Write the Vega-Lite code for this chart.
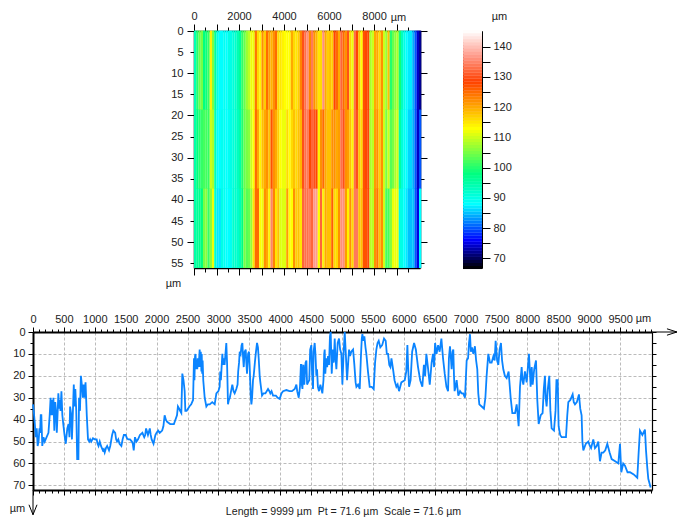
{"$schema":"https://vega.github.io/schema/vega-lite/v6.json","background":"white","padding":{"left":9,"top":9,"right":0,"bottom":0},
"config":{"font":"Liberation Sans","view":{"stroke":null},"axis":{"labelFont":"Liberation Sans","labelFontSize":11,"labelColor":"#222","titleFont":"Liberation Sans","titleFontSize":11,"titleFontWeight":"normal","titleColor":"#222","tickColor":"#000","domainColor":"#000","labelPadding":3,"labelOverlap":false,"labelFlush":false,"grid":false,"title":null,"format":"d"}},
"datasets":{
"anchor":[{"x":0,"y":0}],
"heat":[{"x":50,"y":9.3,"z":94},{"x":150,"y":9.3,"z":100},{"x":250,"y":9.3,"z":104},{"x":350,"y":9.3,"z":105},{"x":450,"y":9.3,"z":98},{"x":550,"y":9.3,"z":99},{"x":650,"y":9.3,"z":101},{"x":750,"y":9.3,"z":114},{"x":850,"y":9.3,"z":105},{"x":950,"y":9.3,"z":96},{"x":1050,"y":9.3,"z":90},{"x":1150,"y":9.3,"z":88},{"x":1250,"y":9.3,"z":88},{"x":1350,"y":9.3,"z":89},{"x":1450,"y":9.3,"z":88},{"x":1550,"y":9.3,"z":90},{"x":1650,"y":9.3,"z":90},{"x":1750,"y":9.3,"z":91},{"x":1850,"y":9.3,"z":92},{"x":1950,"y":9.3,"z":94},{"x":2050,"y":9.3,"z":96},{"x":2150,"y":9.3,"z":101},{"x":2250,"y":9.3,"z":104},{"x":2350,"y":9.3,"z":107},{"x":2450,"y":9.3,"z":109},{"x":2550,"y":9.3,"z":112},{"x":2650,"y":9.3,"z":112},{"x":2750,"y":9.3,"z":124},{"x":2850,"y":9.3,"z":116},{"x":2950,"y":9.3,"z":114},{"x":3050,"y":9.3,"z":122},{"x":3150,"y":9.3,"z":117},{"x":3250,"y":9.3,"z":125},{"x":3350,"y":9.3,"z":121},{"x":3450,"y":9.3,"z":119},{"x":3550,"y":9.3,"z":122},{"x":3650,"y":9.3,"z":125},{"x":3750,"y":9.3,"z":116},{"x":3850,"y":9.3,"z":115},{"x":3950,"y":9.3,"z":114},{"x":4050,"y":9.3,"z":113},{"x":4150,"y":9.3,"z":113},{"x":4250,"y":9.3,"z":113},{"x":4350,"y":9.3,"z":120},{"x":4450,"y":9.3,"z":116},{"x":4550,"y":9.3,"z":115},{"x":4650,"y":9.3,"z":117},{"x":4750,"y":9.3,"z":123},{"x":4850,"y":9.3,"z":130},{"x":4950,"y":9.3,"z":133},{"x":5050,"y":9.3,"z":136},{"x":5150,"y":9.3,"z":123},{"x":5250,"y":9.3,"z":134},{"x":5350,"y":9.3,"z":122},{"x":5450,"y":9.3,"z":119},{"x":5550,"y":9.3,"z":115},{"x":5650,"y":9.3,"z":116},{"x":5750,"y":9.3,"z":136},{"x":5850,"y":9.3,"z":120},{"x":5950,"y":9.3,"z":117},{"x":6050,"y":9.3,"z":118},{"x":6150,"y":9.3,"z":117},{"x":6250,"y":9.3,"z":128},{"x":6350,"y":9.3,"z":125},{"x":6450,"y":9.3,"z":120},{"x":6550,"y":9.3,"z":132},{"x":6650,"y":9.3,"z":125},{"x":6750,"y":9.3,"z":122},{"x":6850,"y":9.3,"z":130},{"x":6950,"y":9.3,"z":116},{"x":7050,"y":9.3,"z":112},{"x":7150,"y":9.3,"z":133},{"x":7250,"y":9.3,"z":128},{"x":7350,"y":9.3,"z":118},{"x":7450,"y":9.3,"z":113},{"x":7550,"y":9.3,"z":127},{"x":7650,"y":9.3,"z":128},{"x":7750,"y":9.3,"z":128},{"x":7850,"y":9.3,"z":108},{"x":7950,"y":9.3,"z":110},{"x":8050,"y":9.3,"z":120},{"x":8150,"y":9.3,"z":120},{"x":8250,"y":9.3,"z":116},{"x":8350,"y":9.3,"z":122},{"x":8450,"y":9.3,"z":110},{"x":8550,"y":9.3,"z":107},{"x":8650,"y":9.3,"z":118},{"x":8750,"y":9.3,"z":100},{"x":8850,"y":9.3,"z":104},{"x":8950,"y":9.3,"z":106},{"x":9050,"y":9.3,"z":108},{"x":9150,"y":9.3,"z":99},{"x":9250,"y":9.3,"z":93},{"x":9350,"y":9.3,"z":90},{"x":9450,"y":9.3,"z":88},{"x":9550,"y":9.3,"z":87},{"x":9650,"y":9.3,"z":87},{"x":9750,"y":9.3,"z":84},{"x":9850,"y":9.3,"z":80},{"x":9950,"y":9.3,"z":74},{"x":10050,"y":9.3,"z":72},
{"x":50,"y":28,"z":95},{"x":150,"y":28,"z":98},{"x":250,"y":28,"z":100},{"x":350,"y":28,"z":101},{"x":450,"y":28,"z":102},{"x":550,"y":28,"z":102},{"x":650,"y":28,"z":101},{"x":750,"y":28,"z":110},{"x":850,"y":28,"z":108},{"x":950,"y":28,"z":94},{"x":1050,"y":28,"z":88},{"x":1150,"y":28,"z":88},{"x":1250,"y":28,"z":89},{"x":1350,"y":28,"z":89},{"x":1450,"y":28,"z":88},{"x":1550,"y":28,"z":89},{"x":1650,"y":28,"z":90},{"x":1750,"y":28,"z":91},{"x":1850,"y":28,"z":92},{"x":1950,"y":28,"z":93},{"x":2050,"y":28,"z":95},{"x":2150,"y":28,"z":100},{"x":2250,"y":28,"z":104},{"x":2350,"y":28,"z":105},{"x":2450,"y":28,"z":106},{"x":2550,"y":28,"z":110},{"x":2650,"y":28,"z":113},{"x":2750,"y":28,"z":125},{"x":2850,"y":28,"z":120},{"x":2950,"y":28,"z":114},{"x":3050,"y":28,"z":118},{"x":3150,"y":28,"z":120},{"x":3250,"y":28,"z":122},{"x":3350,"y":28,"z":118},{"x":3450,"y":28,"z":127},{"x":3550,"y":28,"z":122},{"x":3650,"y":28,"z":120},{"x":3750,"y":28,"z":117},{"x":3850,"y":28,"z":113},{"x":3950,"y":28,"z":112},{"x":4050,"y":28,"z":112},{"x":4150,"y":28,"z":116},{"x":4250,"y":28,"z":113},{"x":4350,"y":28,"z":116},{"x":4450,"y":28,"z":118},{"x":4550,"y":28,"z":116},{"x":4650,"y":28,"z":118},{"x":4750,"y":28,"z":119},{"x":4850,"y":28,"z":130},{"x":4950,"y":28,"z":133},{"x":5050,"y":28,"z":134},{"x":5150,"y":28,"z":128},{"x":5250,"y":28,"z":132},{"x":5350,"y":28,"z":130},{"x":5450,"y":28,"z":128},{"x":5550,"y":28,"z":114},{"x":5650,"y":28,"z":122},{"x":5750,"y":28,"z":125},{"x":5850,"y":28,"z":120},{"x":5950,"y":28,"z":118},{"x":6050,"y":28,"z":118},{"x":6150,"y":28,"z":122},{"x":6250,"y":28,"z":122},{"x":6350,"y":28,"z":120},{"x":6450,"y":28,"z":121},{"x":6550,"y":28,"z":133},{"x":6650,"y":28,"z":130},{"x":6750,"y":28,"z":122},{"x":6850,"y":28,"z":121},{"x":6950,"y":28,"z":118},{"x":7050,"y":28,"z":114},{"x":7150,"y":28,"z":133},{"x":7250,"y":28,"z":130},{"x":7350,"y":28,"z":118},{"x":7450,"y":28,"z":116},{"x":7550,"y":28,"z":127},{"x":7650,"y":28,"z":128},{"x":7750,"y":28,"z":129},{"x":7850,"y":28,"z":108},{"x":7950,"y":28,"z":109},{"x":8050,"y":28,"z":121},{"x":8150,"y":28,"z":122},{"x":8250,"y":28,"z":117},{"x":8350,"y":28,"z":122},{"x":8450,"y":28,"z":110},{"x":8550,"y":28,"z":105},{"x":8650,"y":28,"z":110},{"x":8750,"y":28,"z":103},{"x":8850,"y":28,"z":105},{"x":8950,"y":28,"z":108},{"x":9050,"y":28,"z":110},{"x":9150,"y":28,"z":95},{"x":9250,"y":28,"z":91},{"x":9350,"y":28,"z":89},{"x":9450,"y":28,"z":88},{"x":9550,"y":28,"z":86},{"x":9650,"y":28,"z":86},{"x":9750,"y":28,"z":84},{"x":9850,"y":28,"z":80},{"x":9950,"y":28,"z":74},{"x":10050,"y":28,"z":80},
{"x":50,"y":46.7,"z":95},{"x":150,"y":46.7,"z":96},{"x":250,"y":46.7,"z":97},{"x":350,"y":46.7,"z":98},{"x":450,"y":46.7,"z":105},{"x":550,"y":46.7,"z":106},{"x":650,"y":46.7,"z":101},{"x":750,"y":46.7,"z":106},{"x":850,"y":46.7,"z":112},{"x":950,"y":46.7,"z":92},{"x":1050,"y":46.7,"z":87},{"x":1150,"y":46.7,"z":87},{"x":1250,"y":46.7,"z":90},{"x":1350,"y":46.7,"z":89},{"x":1450,"y":46.7,"z":88},{"x":1550,"y":46.7,"z":88},{"x":1650,"y":46.7,"z":89},{"x":1750,"y":46.7,"z":92},{"x":1850,"y":46.7,"z":92},{"x":1950,"y":46.7,"z":92},{"x":2050,"y":46.7,"z":94},{"x":2150,"y":46.7,"z":98},{"x":2250,"y":46.7,"z":105},{"x":2350,"y":46.7,"z":103},{"x":2450,"y":46.7,"z":104},{"x":2550,"y":46.7,"z":107},{"x":2650,"y":46.7,"z":115},{"x":2750,"y":46.7,"z":125},{"x":2850,"y":46.7,"z":125},{"x":2950,"y":46.7,"z":113},{"x":3050,"y":46.7,"z":112},{"x":3150,"y":46.7,"z":122},{"x":3250,"y":46.7,"z":120},{"x":3350,"y":46.7,"z":114},{"x":3450,"y":46.7,"z":135},{"x":3550,"y":46.7,"z":123},{"x":3650,"y":46.7,"z":115},{"x":3750,"y":46.7,"z":118},{"x":3850,"y":46.7,"z":111},{"x":3950,"y":46.7,"z":111},{"x":4050,"y":46.7,"z":111},{"x":4150,"y":46.7,"z":121},{"x":4250,"y":46.7,"z":113},{"x":4350,"y":46.7,"z":113},{"x":4450,"y":46.7,"z":122},{"x":4550,"y":46.7,"z":117},{"x":4650,"y":46.7,"z":118},{"x":4750,"y":46.7,"z":115},{"x":4850,"y":46.7,"z":132},{"x":4950,"y":46.7,"z":133},{"x":5050,"y":46.7,"z":133},{"x":5150,"y":46.7,"z":134},{"x":5250,"y":46.7,"z":132},{"x":5350,"y":46.7,"z":137},{"x":5450,"y":46.7,"z":137},{"x":5550,"y":46.7,"z":113},{"x":5650,"y":46.7,"z":132},{"x":5750,"y":46.7,"z":114},{"x":5850,"y":46.7,"z":120},{"x":5950,"y":46.7,"z":118},{"x":6050,"y":46.7,"z":118},{"x":6150,"y":46.7,"z":126},{"x":6250,"y":46.7,"z":116},{"x":6350,"y":46.7,"z":116},{"x":6450,"y":46.7,"z":122},{"x":6550,"y":46.7,"z":136},{"x":6650,"y":46.7,"z":136},{"x":6750,"y":46.7,"z":121},{"x":6850,"y":46.7,"z":114},{"x":6950,"y":46.7,"z":122},{"x":7050,"y":46.7,"z":116},{"x":7150,"y":46.7,"z":134},{"x":7250,"y":46.7,"z":134},{"x":7350,"y":46.7,"z":118},{"x":7450,"y":46.7,"z":118},{"x":7550,"y":46.7,"z":127},{"x":7650,"y":46.7,"z":127},{"x":7750,"y":46.7,"z":129},{"x":7850,"y":46.7,"z":109},{"x":7950,"y":46.7,"z":109},{"x":8050,"y":46.7,"z":122},{"x":8150,"y":46.7,"z":124},{"x":8250,"y":46.7,"z":118},{"x":8350,"y":46.7,"z":122},{"x":8450,"y":46.7,"z":110},{"x":8550,"y":46.7,"z":102},{"x":8650,"y":46.7,"z":102},{"x":8750,"y":46.7,"z":106},{"x":8850,"y":46.7,"z":112},{"x":8950,"y":46.7,"z":112},{"x":9050,"y":46.7,"z":112},{"x":9150,"y":46.7,"z":90},{"x":9250,"y":46.7,"z":90},{"x":9350,"y":46.7,"z":88},{"x":9450,"y":46.7,"z":87},{"x":9550,"y":46.7,"z":85},{"x":9650,"y":46.7,"z":85},{"x":9750,"y":46.7,"z":85},{"x":9850,"y":46.7,"z":80},{"x":9950,"y":46.7,"z":75},{"x":10050,"y":46.7,"z":88}],
"bar":[{"z":67},{"z":68},{"z":69},{"z":70},{"z":71},{"z":72},{"z":73},{"z":74},{"z":75},{"z":76},{"z":77},{"z":78},{"z":79},{"z":80},{"z":81},{"z":82},{"z":83},{"z":84},{"z":85},{"z":86},{"z":87},{"z":88},{"z":89},{"z":90},{"z":91},{"z":92},{"z":93},{"z":94},{"z":95},{"z":96},{"z":97},{"z":98},{"z":99},{"z":100},{"z":101},{"z":102},{"z":103},{"z":104},{"z":105},{"z":106},{"z":107},{"z":108},{"z":109},{"z":110},{"z":111},{"z":112},{"z":113},{"z":114},{"z":115},{"z":116},{"z":117},{"z":118},{"z":119},{"z":120},{"z":121},{"z":122},{"z":123},{"z":124},{"z":125},{"z":126},{"z":127},{"z":128},{"z":129},{"z":130},{"z":131},{"z":132},{"z":133},{"z":134},{"z":135},{"z":136},{"z":137},{"z":138},{"z":139},{"z":140},{"z":141},{"z":142},{"z":143},{"z":144},{"z":145}],
"profile":[{"x":0,"y":33},{"x":15,"y":37},{"x":30,"y":42},{"x":45,"y":48},{"x":60,"y":44},{"x":75,"y":52},{"x":90,"y":50},{"x":105,"y":44},{"x":115,"y":46},{"x":125,"y":38},{"x":135,"y":38},{"x":150,"y":52},{"x":170,"y":48},{"x":190,"y":50},{"x":220,"y":48},{"x":250,"y":46},{"x":270,"y":38},{"x":285,"y":30},{"x":295,"y":38},{"x":305,"y":31},{"x":320,"y":38},{"x":330,"y":30},{"x":345,"y":45},{"x":360,"y":32},{"x":375,"y":37},{"x":385,"y":46},{"x":400,"y":36},{"x":410,"y":28},{"x":425,"y":35},{"x":435,"y":31},{"x":445,"y":36},{"x":460,"y":27},{"x":475,"y":38},{"x":490,"y":42},{"x":510,"y":47},{"x":530,"y":51},{"x":555,"y":44},{"x":575,"y":42},{"x":590,"y":48},{"x":600,"y":34},{"x":615,"y":37},{"x":630,"y":49},{"x":645,"y":37},{"x":660,"y":24},{"x":670,"y":34},{"x":685,"y":26},{"x":700,"y":36},{"x":715,"y":58},{"x":735,"y":58},{"x":745,"y":30},{"x":760,"y":36},{"x":775,"y":20},{"x":790,"y":24},{"x":805,"y":30},{"x":820,"y":24},{"x":835,"y":30},{"x":850,"y":23},{"x":870,"y":38},{"x":890,"y":49},{"x":910,"y":50},{"x":925,"y":49},{"x":943,"y":50},{"x":970,"y":48.5},{"x":1000,"y":49},{"x":1030,"y":49},{"x":1045,"y":51},{"x":1060,"y":52},{"x":1080,"y":50},{"x":1100,"y":52},{"x":1115,"y":53},{"x":1130,"y":54},{"x":1145,"y":53.5},{"x":1160,"y":55},{"x":1180,"y":53},{"x":1200,"y":52},{"x":1230,"y":54},{"x":1250,"y":52},{"x":1280,"y":47},{"x":1300,"y":45},{"x":1330,"y":46},{"x":1345,"y":49},{"x":1360,"y":50},{"x":1380,"y":49},{"x":1400,"y":51},{"x":1430,"y":52},{"x":1450,"y":49},{"x":1470,"y":47},{"x":1500,"y":47},{"x":1520,"y":48.5},{"x":1540,"y":49},{"x":1570,"y":49},{"x":1600,"y":50},{"x":1615,"y":51},{"x":1630,"y":54},{"x":1650,"y":48},{"x":1675,"y":50},{"x":1700,"y":49},{"x":1730,"y":47},{"x":1770,"y":46},{"x":1800,"y":48},{"x":1815,"y":47},{"x":1830,"y":44},{"x":1860,"y":47},{"x":1890,"y":44},{"x":1905,"y":47},{"x":1920,"y":49},{"x":1950,"y":51},{"x":1980,"y":47},{"x":2000,"y":46},{"x":2025,"y":45},{"x":2050,"y":46},{"x":2090,"y":45},{"x":2110,"y":43},{"x":2130,"y":38},{"x":2150,"y":40},{"x":2170,"y":41},{"x":2220,"y":42},{"x":2280,"y":42},{"x":2330,"y":38},{"x":2345,"y":34},{"x":2365,"y":35},{"x":2380,"y":36},{"x":2400,"y":37},{"x":2416,"y":19},{"x":2435,"y":22},{"x":2454,"y":27},{"x":2465,"y":36},{"x":2485,"y":36},{"x":2508,"y":35},{"x":2530,"y":34},{"x":2560,"y":33},{"x":2590,"y":31},{"x":2605,"y":12},{"x":2612,"y":22},{"x":2622,"y":11},{"x":2630,"y":10},{"x":2640,"y":17},{"x":2650,"y":13},{"x":2658,"y":17},{"x":2665,"y":12},{"x":2680,"y":16},{"x":2697,"y":8},{"x":2705,"y":16},{"x":2715,"y":9},{"x":2725,"y":18},{"x":2730,"y":10},{"x":2738,"y":19},{"x":2745,"y":13},{"x":2755,"y":22},{"x":2778,"y":30},{"x":2805,"y":34},{"x":2830,"y":33},{"x":2860,"y":33},{"x":2900,"y":32},{"x":2940,"y":33},{"x":2967,"y":28},{"x":3000,"y":27},{"x":3020,"y":25},{"x":3030,"y":18},{"x":3040,"y":22},{"x":3064,"y":10},{"x":3075,"y":15},{"x":3085,"y":12},{"x":3100,"y":15},{"x":3128,"y":5},{"x":3140,"y":14},{"x":3145,"y":20},{"x":3155,"y":33},{"x":3170,"y":31},{"x":3185,"y":30},{"x":3205,"y":27},{"x":3225,"y":24},{"x":3245,"y":27},{"x":3263,"y":28},{"x":3290,"y":26},{"x":3310,"y":24},{"x":3320,"y":18},{"x":3334,"y":14},{"x":3345,"y":9},{"x":3360,"y":10},{"x":3375,"y":6},{"x":3388,"y":5},{"x":3400,"y":12},{"x":3410,"y":16},{"x":3425,"y":9},{"x":3442,"y":8},{"x":3452,"y":14},{"x":3463,"y":19},{"x":3480,"y":10},{"x":3495,"y":9},{"x":3505,"y":15},{"x":3517,"y":24},{"x":3525,"y":30},{"x":3534,"y":33},{"x":3545,"y":30},{"x":3560,"y":22},{"x":3571,"y":20},{"x":3590,"y":14},{"x":3604,"y":10},{"x":3625,"y":5},{"x":3640,"y":7},{"x":3652,"y":12},{"x":3668,"y":20},{"x":3679,"y":23},{"x":3706,"y":29},{"x":3730,"y":28},{"x":3760,"y":28},{"x":3803,"y":26},{"x":3825,"y":27},{"x":3840,"y":28},{"x":3860,"y":27},{"x":3884,"y":29},{"x":3930,"y":29},{"x":3960,"y":30},{"x":3992,"y":30.5},{"x":4020,"y":28},{"x":4046,"y":27},{"x":4100,"y":26.5},{"x":4150,"y":27},{"x":4190,"y":27},{"x":4235,"y":26},{"x":4262,"y":24},{"x":4275,"y":27},{"x":4300,"y":30},{"x":4320,"y":25},{"x":4335,"y":15},{"x":4343,"y":15},{"x":4350,"y":24},{"x":4360,"y":26},{"x":4375,"y":15},{"x":4390,"y":24},{"x":4410,"y":14},{"x":4424,"y":13},{"x":4435,"y":24},{"x":4451,"y":23},{"x":4470,"y":22},{"x":4485,"y":8},{"x":4504,"y":6},{"x":4515,"y":18},{"x":4531,"y":26},{"x":4540,"y":9},{"x":4558,"y":5},{"x":4570,"y":10},{"x":4585,"y":20},{"x":4596,"y":17},{"x":4610,"y":25},{"x":4628,"y":27},{"x":4650,"y":24},{"x":4682,"y":28},{"x":4700,"y":22},{"x":4712,"y":10},{"x":4720,"y":8},{"x":4730,"y":19},{"x":4745,"y":12},{"x":4760,"y":16},{"x":4774,"y":11},{"x":4790,"y":15},{"x":4805,"y":2},{"x":4817,"y":0},{"x":4826,"y":10},{"x":4834,"y":19},{"x":4850,"y":8},{"x":4866,"y":14},{"x":4882,"y":3},{"x":4895,"y":12},{"x":4909,"y":17},{"x":4930,"y":5},{"x":4952,"y":3},{"x":4970,"y":8},{"x":4990,"y":10},{"x":5006,"y":24},{"x":5025,"y":10},{"x":5044,"y":0},{"x":5060,"y":9},{"x":5082,"y":22},{"x":5100,"y":14},{"x":5114,"y":8},{"x":5130,"y":11},{"x":5150,"y":9},{"x":5179,"y":8},{"x":5200,"y":15},{"x":5220,"y":23},{"x":5233,"y":25},{"x":5260,"y":24},{"x":5287,"y":26},{"x":5305,"y":12},{"x":5320,"y":3},{"x":5330,"y":1},{"x":5345,"y":4},{"x":5362,"y":2},{"x":5380,"y":7},{"x":5394,"y":10},{"x":5420,"y":18},{"x":5448,"y":25},{"x":5480,"y":25},{"x":5513,"y":26},{"x":5535,"y":14},{"x":5556,"y":8},{"x":5575,"y":5},{"x":5594,"y":4},{"x":5620,"y":7},{"x":5650,"y":6},{"x":5680,"y":3},{"x":5707,"y":4},{"x":5725,"y":10},{"x":5745,"y":10},{"x":5765,"y":15},{"x":5783,"y":16},{"x":5800,"y":12},{"x":5826,"y":17},{"x":5850,"y":22},{"x":5880,"y":25},{"x":5900,"y":24},{"x":5923,"y":27},{"x":5960,"y":23},{"x":6015,"y":22},{"x":6040,"y":18},{"x":6058,"y":6},{"x":6070,"y":16},{"x":6085,"y":25},{"x":6110,"y":22},{"x":6135,"y":9},{"x":6166,"y":5},{"x":6195,"y":8},{"x":6230,"y":16},{"x":6265,"y":22},{"x":6300,"y":25},{"x":6325,"y":15},{"x":6345,"y":20},{"x":6365,"y":10},{"x":6390,"y":16},{"x":6420,"y":24},{"x":6450,"y":14},{"x":6473,"y":10},{"x":6490,"y":16},{"x":6506,"y":5},{"x":6530,"y":10},{"x":6555,"y":6},{"x":6580,"y":9},{"x":6608,"y":3},{"x":6635,"y":12},{"x":6662,"y":19},{"x":6690,"y":25},{"x":6716,"y":27},{"x":6730,"y":12},{"x":6747,"y":6.5},{"x":6760,"y":11},{"x":6774,"y":17},{"x":6790,"y":9},{"x":6801,"y":8},{"x":6812,"y":20},{"x":6822,"y":27},{"x":6838,"y":25},{"x":6855,"y":22},{"x":6882,"y":29},{"x":6910,"y":27},{"x":6935,"y":28},{"x":6960,"y":28},{"x":6990,"y":30},{"x":7017,"y":13},{"x":7040,"y":12},{"x":7055,"y":5},{"x":7071,"y":1},{"x":7085,"y":9},{"x":7103,"y":7},{"x":7125,"y":10},{"x":7151,"y":6.5},{"x":7170,"y":13},{"x":7189,"y":17},{"x":7205,"y":28},{"x":7222,"y":33},{"x":7260,"y":34},{"x":7297,"y":35},{"x":7320,"y":30},{"x":7340,"y":20},{"x":7367,"y":10},{"x":7395,"y":14},{"x":7421,"y":14},{"x":7450,"y":11},{"x":7470,"y":13},{"x":7486,"y":4},{"x":7510,"y":13},{"x":7529,"y":15},{"x":7550,"y":8},{"x":7572,"y":5},{"x":7590,"y":13},{"x":7610,"y":17},{"x":7635,"y":20},{"x":7664,"y":21},{"x":7696,"y":18},{"x":7729,"y":30},{"x":7756,"y":37},{"x":7780,"y":37},{"x":7800,"y":37},{"x":7826,"y":33},{"x":7840,"y":37},{"x":7858,"y":43},{"x":7880,"y":25},{"x":7907,"y":16},{"x":7920,"y":22},{"x":7934,"y":24},{"x":7960,"y":18},{"x":7988,"y":23},{"x":8005,"y":17},{"x":8025,"y":10},{"x":8040,"y":18},{"x":8052,"y":25},{"x":8070,"y":16},{"x":8085,"y":24},{"x":8110,"y":17},{"x":8139,"y":13},{"x":8160,"y":31},{"x":8182,"y":42},{"x":8215,"y":38},{"x":8246,"y":37},{"x":8265,"y":26},{"x":8284,"y":20},{"x":8295,"y":30},{"x":8311,"y":34},{"x":8330,"y":26},{"x":8354,"y":20},{"x":8372,"y":36},{"x":8392,"y":44},{"x":8430,"y":45},{"x":8455,"y":36},{"x":8470,"y":22},{"x":8490,"y":22},{"x":8505,"y":43},{"x":8530,"y":47},{"x":8554,"y":48},{"x":8590,"y":48},{"x":8624,"y":48},{"x":8645,"y":38},{"x":8662,"y":32},{"x":8695,"y":31},{"x":8732,"y":28.5},{"x":8750,"y":32},{"x":8770,"y":33},{"x":8800,"y":32},{"x":8834,"y":28.5},{"x":8855,"y":35},{"x":8877,"y":38},{"x":8890,"y":50},{"x":8905,"y":54},{"x":8945,"y":51},{"x":8985,"y":50},{"x":9010,"y":52},{"x":9030,"y":53},{"x":9066,"y":49},{"x":9093,"y":53},{"x":9120,"y":52},{"x":9147,"y":50},{"x":9174,"y":59},{"x":9200,"y":55},{"x":9228,"y":55},{"x":9260,"y":54},{"x":9293,"y":51},{"x":9330,"y":55},{"x":9363,"y":58},{"x":9420,"y":59},{"x":9471,"y":60},{"x":9498,"y":51},{"x":9519,"y":64},{"x":9550,"y":60},{"x":9579,"y":61},{"x":9620,"y":64},{"x":9660,"y":64},{"x":9720,"y":65},{"x":9778,"y":66.5},{"x":9800,"y":55},{"x":9821,"y":45},{"x":9860,"y":47},{"x":9902,"y":44.5},{"x":9919,"y":54},{"x":9940,"y":62},{"x":9956,"y":67},{"x":9994,"y":71}],
"xarrow":[{"x":10016,"x2":10420,"y":0}],
"yarrow":[{"x":0,"y":72.1,"y2":83.4}]
},
"bounds":"flush","spacing":301,
"vconcat":[
{"bounds":"flush","spacing":43,"hconcat":[
{"width":118,"height":237,"data":{"name":"anchor"},"mark":{"type":"point","opacity":0},"encoding":{}},
{"width":226,"height":237,"resolve":{"axis":{"x":"independent","y":"independent"}},"layer":[
{"data":{"name":"heat"},"mark":{"type":"rect","width":2.32,"height":79.4},"encoding":{
"x":{"field":"x","type":"quantitative","scale":{"domain":[0,10044]},"axis":{"orient":"top","values":[0,1000,2000,3000,4000,5000,6000,7000,8000,9000],"labelExpr":"datum.value%2000==0?datum.value:''","tickSize":7,"domainWidth":1.5}},
"y":{"field":"y","type":"quantitative","scale":{"domain":[0,56.1],"reverse":true},"axis":{"orient":"left","values":[0,10,20,30,40,50],"labels":false,"tickSize":7,"domainWidth":1.5}},
"color":{"field":"z","type":"quantitative","legend":null,"scale":{"domain":[66.8,76,82,88,98,113,128.5,137,145.2],"range":["#000000","#0000ff","#0080ff","#00ffff","#00ff80","#ffff00","#ff4000","#ff9a8a","#ffffff"],"interpolate":"rgb"}}}},
{"data":{"name":"anchor"},"mark":{"type":"point","opacity":0},"encoding":{
"x":{"field":"x","type":"quantitative","scale":{"domain":[0,10044]},"axis":{"orient":"top","values":[500,1500,2500,3500,4500,5500,6500,7500,8500,9500],"labels":false,"domain":false,"tickSize":4,"title":"µm","titleX":204,"titleY":-9,"titleAngle":0}},
"y":{"field":"y","type":"quantitative","scale":{"domain":[0,56.1],"reverse":true},"axis":{"orient":"left","values":[0,5,10,15,20,25,30,35,40,45,50,55],"labelExpr":"datum.value","tickSize":4,"domain":false,"labelPadding":7,"title":"µm","titleX":-21,"titleY":257,"titleAngle":0}}}},
{"data":{"name":"anchor"},"mark":{"type":"point","opacity":0},"encoding":{
"x":{"field":"x","type":"quantitative","scale":{"domain":[0,10044]},"axis":{"orient":"bottom","values":[0,1000,2000,3000,4000,5000,6000,7000,8000,9000],"labels":false,"tickSize":7,"domainWidth":1.5}},
"y":{"field":"y","type":"quantitative","scale":{"domain":[0,56.1],"reverse":true},"axis":{"orient":"right","values":[0,10,20,30,40,50],"labels":false,"tickSize":7,"domainWidth":1.5}}}},
{"data":{"name":"anchor"},"mark":{"type":"point","opacity":0},"encoding":{
"x":{"field":"x","type":"quantitative","scale":{"domain":[0,10044]},"axis":{"orient":"bottom","values":[500,1500,2500,3500,4500,5500,6500,7500,8500,9500],"labels":false,"domain":false,"tickSize":4}},
"y":{"field":"y","type":"quantitative","scale":{"domain":[0,56.1],"reverse":true},"axis":{"orient":"right","values":[5,15,25,35,45,55],"labels":false,"domain":false,"tickSize":4}}}}
]},
{"width":19,"height":237,"view":{"stroke":"#000"},"data":{"name":"bar"},"mark":{"type":"rect","height":3.3},"encoding":{
"y":{"field":"z","type":"quantitative","scale":{"domain":[66.8,145.2]},"axis":{"orient":"right","values":[70,75,80,85,90,95,100,105,110,115,120,125,130,135,140],"labelExpr":"datum.value%10==0?datum.value:''","tickSize":8,"domain":false,"title":"µm","titleX":17,"titleY":-10,"titleAngle":0}},
"color":{"field":"z","type":"quantitative","legend":null}}}
]},
{"width":619,"height":158,"resolve":{"axis":{"x":"independent","y":"independent"}},"layer":[
{"data":{"name":"anchor"},"mark":{"type":"point","opacity":0},"encoding":{
"x":{"field":"x","type":"quantitative","scale":{"domain":[0,10016]},"axis":{"orient":"top","values":[0,500,1000,1500,2000,2500,3000,3500,4000,4500,5000,5500,6000,6500,7000,7500,8000,8500,9000,9500],"tickSize":5,"domainWidth":2,"grid":true,"gridColor":"#bbb","gridDash":[3,2],"title":"µm","titleX":610,"titleY":-9,"titleAngle":0}},
"y":{"field":"y","type":"quantitative","scale":{"domain":[0,72.1],"reverse":true},"axis":{"orient":"left","values":[0,10,20,30,40,50,60,70],"tickSize":5,"domainWidth":2,"grid":true,"gridColor":"#bbb","gridDash":[3,2],"title":"µm","titleX":-16,"titleY":181,"titleAngle":0}}}},
{"data":{"name":"anchor"},"mark":{"type":"point","opacity":0},"encoding":{
"x":{"field":"x","type":"quantitative","scale":{"domain":[0,10016]},"axis":{"orient":"top","values":[100,200,300,400,600,700,800,900,1100,1200,1300,1400,1600,1700,1800,1900,2100,2200,2300,2400,2600,2700,2800,2900,3100,3200,3300,3400,3600,3700,3800,3900,4100,4200,4300,4400,4600,4700,4800,4900,5100,5200,5300,5400,5600,5700,5800,5900,6100,6200,6300,6400,6600,6700,6800,6900,7100,7200,7300,7400,7600,7700,7800,7900,8100,8200,8300,8400,8600,8700,8800,8900,9100,9200,9300,9400,9600,9700,9800,9900,10000],"labels":false,"domain":false,"tickSize":3}},
"y":{"field":"y","type":"quantitative","scale":{"domain":[0,72.1],"reverse":true},"axis":{"orient":"left","values":[5,15,25,35,45,55,65],"labels":false,"domain":false,"tickSize":3}}}},
{"data":{"name":"anchor"},"mark":{"type":"point","opacity":0},"encoding":{
"x":{"field":"x","type":"quantitative","scale":{"domain":[0,10016]},"axis":{"orient":"bottom","values":[0,500,1000,1500,2000,2500,3000,3500,4000,4500,5000,5500,6000,6500,7000,7500,8000,8500,9000,9500],"labels":false,"tickSize":5,"domainWidth":2,"title":"Length = 9999 µm\u00a0\u00a0Pt = 71.6 µm\u00a0\u00a0Scale = 71.6 µm","titleFontSize":10.6,"titleX":310,"titleY":16,"titleAlign":"center"}},
"y":{"field":"y","type":"quantitative","scale":{"domain":[0,72.1],"reverse":true},"axis":{"orient":"right","values":[0,5,10,15,20,25,30,35,40,45,50,55,60,65,70],"labels":false,"tickSize":4,"domainWidth":1.2}}}},
{"data":{"name":"anchor"},"mark":{"type":"point","opacity":0},"encoding":{
"x":{"field":"x","type":"quantitative","scale":{"domain":[0,10016]},"axis":{"orient":"bottom","values":[100,200,300,400,600,700,800,900,1100,1200,1300,1400,1600,1700,1800,1900,2100,2200,2300,2400,2600,2700,2800,2900,3100,3200,3300,3400,3600,3700,3800,3900,4100,4200,4300,4400,4600,4700,4800,4900,5100,5200,5300,5400,5600,5700,5800,5900,6100,6200,6300,6400,6600,6700,6800,6900,7100,7200,7300,7400,7600,7700,7800,7900,8100,8200,8300,8400,8600,8700,8800,8900,9100,9200,9300,9400,9600,9700,9800,9900,10000],"labels":false,"domain":false,"tickSize":3}},
"y":{"field":"y","type":"quantitative","scale":{"domain":[0,72.1],"reverse":true},"axis":null}}},
{"data":{"name":"profile"},"mark":{"type":"line","color":"#0a84ff","strokeWidth":1.8,"interpolate":"linear"},"encoding":{
"x":{"field":"x","type":"quantitative","scale":{"domain":[0,10016]},"axis":null},
"y":{"field":"y","type":"quantitative","scale":{"domain":[0,72.1],"reverse":true},"axis":null}}},
{"data":{"name":"xarrow"},"mark":{"type":"rule","color":"#000","strokeWidth":1,"clip":false},"encoding":{
"x":{"field":"x","type":"quantitative","scale":{"domain":[0,10016]},"axis":null},"x2":{"field":"x2"},
"y":{"field":"y","type":"quantitative","scale":{"domain":[0,72.1],"reverse":true},"axis":null}}},
{"data":{"name":"xarrow"},"mark":{"type":"point","shape":"M-1,-0.32L0,0L-1,0.32","size":400,"color":"#000","filled":false,"strokeWidth":1,"opacity":1,"clip":false},"encoding":{
"x":{"field":"x2","type":"quantitative","scale":{"domain":[0,10016]},"axis":null},
"y":{"field":"y","type":"quantitative","scale":{"domain":[0,72.1],"reverse":true},"axis":null}}},
{"data":{"name":"yarrow"},"mark":{"type":"rule","color":"#000","strokeWidth":1,"clip":false},"encoding":{
"x":{"field":"x","type":"quantitative","scale":{"domain":[0,10016]},"axis":null},
"y":{"field":"y","type":"quantitative","scale":{"domain":[0,72.1],"reverse":true},"axis":null},"y2":{"field":"y2"}}},
{"data":{"name":"yarrow"},"mark":{"type":"point","shape":"M-0.4,-1L0,0L0.4,-1","size":400,"color":"#000","filled":false,"strokeWidth":1,"opacity":1,"clip":false},"encoding":{
"x":{"field":"x","type":"quantitative","scale":{"domain":[0,10016]},"axis":null},
"y":{"field":"y2","type":"quantitative","scale":{"domain":[0,72.1],"reverse":true},"axis":null}}}
]}
]}
